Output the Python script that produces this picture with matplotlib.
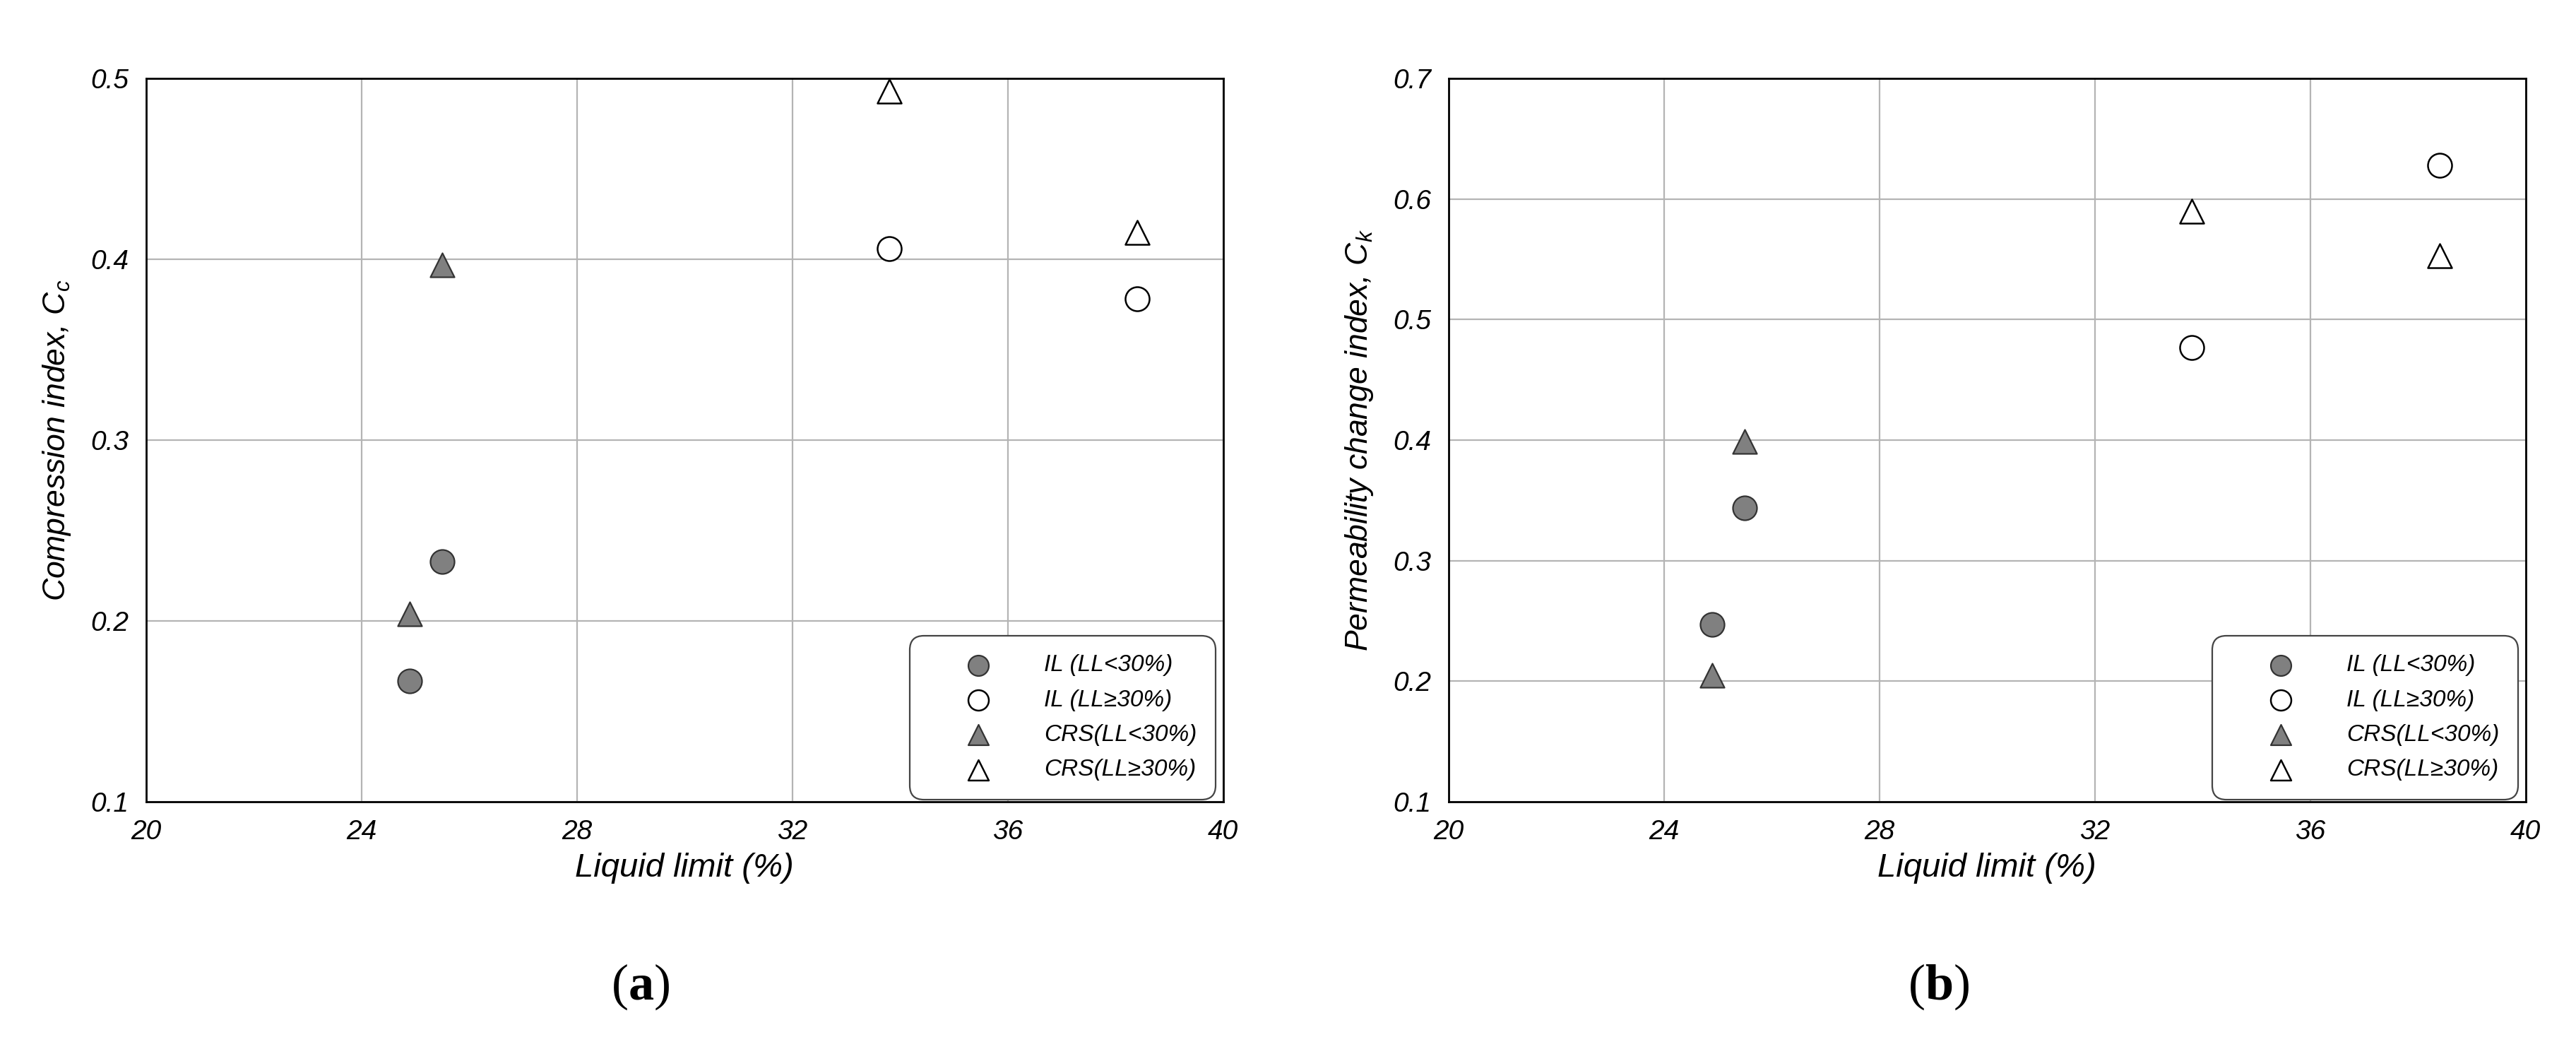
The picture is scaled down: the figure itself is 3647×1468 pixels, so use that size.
import matplotlib
matplotlib.use("Agg")
import matplotlib.pyplot as plt

plt.rcParams["font.family"] = ["Liberation Sans", "DejaVu Sans"]
plt.rcParams["mathtext.fontset"] = "custom"
plt.rcParams["mathtext.rm"] = "Liberation Sans"
plt.rcParams["mathtext.it"] = "Liberation Sans:italic"
plt.rcParams["mathtext.bf"] = "Liberation Serif:bold"

# liquid limit of the samples (%)
ll_low = [24.9, 25.5]
ll_high = [33.8, 38.4]

# (a) compression index Cc
cc_il_low = [0.167, 0.233]
cc_il_high = [0.406, 0.378]
cc_crs_low = [0.204, 0.397]
cc_crs_high = [0.493, 0.415]

# (b) permeability change index Ck
ck_il_low = [0.247, 0.344]
ck_il_high = [0.477, 0.628]
ck_crs_low = [0.205, 0.399]
ck_crs_high = [0.590, 0.553]

labels = ["IL (LL<30%)", "IL (LL\u226530%)", "CRS(LL<30%)", "CRS(LL\u226530%)"]
xticks = [20, 24, 28, 32, 36, 40]

fig = plt.figure(figsize=(18.24, 7.34), dpi=200)
ax_a = fig.add_axes([0.0567, 0.2268, 0.418, 0.6975])
ax_b = fig.add_axes([0.5622, 0.2268, 0.418, 0.6975])

GRAY = "#808080"
ms = 150


def panel(ax, il_lo, il_hi, crs_lo, crs_hi, ylim, yticks, ylabel):
    ax.scatter(ll_low, il_lo, s=ms, marker="o", c=GRAY, edgecolors="#333333", linewidths=0.8, zorder=3, label=labels[0])
    ax.scatter(ll_high, il_hi, s=ms, marker="o", c="white", edgecolors="black", linewidths=0.9, zorder=3, label=labels[1])
    ax.scatter(ll_low, crs_lo, s=ms, marker="^", c=GRAY, edgecolors="#333333", linewidths=0.8, zorder=3, label=labels[2])
    ax.scatter(ll_high, crs_hi, s=ms, marker="^", c="white", edgecolors="black", linewidths=0.9, zorder=3, label=labels[3])
    ax.set_xlim(20, 40); ax.set_ylim(*ylim)
    ax.set_xticks(xticks); ax.set_yticks(yticks)
    ax.set_xticklabels([str(v) for v in xticks], fontsize=14, style="italic")
    ax.set_yticklabels([f"{v:.1f}" for v in yticks], fontsize=14, style="italic")
    ax.tick_params(length=0, pad=9)
    ax.grid(True, color="#b4b4b4", lw=0.8)
    ax.set_axisbelow(True)
    for s in ax.spines.values():
        s.set_linewidth(1.0)
    ax.set_xlabel("Liquid limit (%)", fontsize=17, style="italic", labelpad=4)
    ax.set_ylabel(ylabel, fontsize=16, style="italic", labelpad=9)
    leg = ax.legend(loc="lower right", bbox_to_anchor=(0.993, 0.003), borderaxespad=0,
                    prop={"style": "italic", "size": 12}, fancybox=True,
                    handlelength=4.2, handletextpad=0.7, labelspacing=0.55, borderpad=0.8,
                    markerscale=0.85, framealpha=1)
    fr = leg.get_frame()
    fr.set_boxstyle("round,pad=0,rounding_size=0.6")
    fr.set_edgecolor("#444444")
    fr.set_linewidth(0.8)


panel(ax_a, cc_il_low, cc_il_high, cc_crs_low, cc_crs_high, (0.1, 0.5),
      [0.1, 0.2, 0.3, 0.4, 0.5], "Compression index, C$_c$")
panel(ax_b, ck_il_low, ck_il_high, ck_crs_low, ck_crs_high, (0.1, 0.7),
      [0.1, 0.2, 0.3, 0.4, 0.5, 0.6, 0.7], "Permeability change index, C$_k$")

fig.text(907 / 3648, 1 - 1397 / 1468, r"($\mathbf{a}$)", family="Liberation Serif",
         fontsize=26, ha="center", va="center")
fig.text(2745 / 3648, 1 - 1397 / 1468, r"($\mathbf{b}$)", family="Liberation Serif",
         fontsize=26, ha="center", va="center")

fig.savefig("out.png", dpi=200)
